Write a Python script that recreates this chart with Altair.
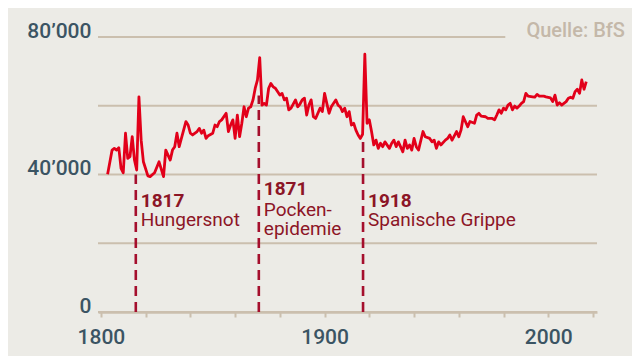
import altair as alt
import pandas as pd

# ---- data ----
years = [1803, 1805, 1806, 1807, 1808, 1809, 1810, 1811, 1812, 1813, 1814, 1815, 1816, 1817, 1818, 1819,
         1821, 1822, 1824, 1826, 1828, 1829, 1831, 1832, 1833, 1834, 1835, 1838, 1839, 1840, 1841, 1843,
         1844, 1845, 1846, 1847, 1848, 1850, 1851, 1852, 1853, 1854, 1856, 1857, 1858, 1859, 1860, 1861,
         1862, 1863, 1864, 1865, 1866, 1867, 1868, 1869, 1870, 1871, 1872, 1873, 1874, 1875, 1876, 1877,
         1878, 1880, 1881, 1882, 1883, 1884, 1885, 1887, 1888, 1889, 1890, 1891, 1892, 1893, 1894, 1895,
         1896, 1898, 1899, 1900, 1901, 1902, 1903, 1905, 1906, 1907, 1908, 1909, 1910, 1911, 1912, 1913,
         1914, 1915, 1916, 1917, 1918, 1919, 1920, 1921, 1922, 1923, 1924, 1925, 1926, 1927, 1929, 1930,
         1931, 1932, 1933, 1935, 1936, 1937, 1938, 1939, 1940, 1941, 1942, 1944, 1945, 1947, 1948, 1949,
         1950, 1951, 1952, 1954, 1955, 1956, 1957, 1959, 1960, 1961, 1962, 1964, 1965, 1967, 1968, 1969,
         1970, 1972, 1973, 1975, 1976, 1977, 1978, 1979, 1980, 1981, 1982, 1983, 1984, 1985, 1986, 1987,
         1988, 1989, 1990, 1991, 1993, 1994, 1995, 1996, 1998, 1999, 2001, 2002, 2003, 2004, 2005, 2006,
         2007, 2008, 2009, 2010, 2011, 2012, 2013, 2014, 2015, 2016, 2017]
deaths = [40100, 47100, 47600, 47100, 47800, 41800, 40500, 52000, 44700, 45200, 51000, 44200, 41300, 62600, 50000, 43700,
          39600, 39400, 40500, 43700, 39400, 47100, 44200, 47100, 48100, 52000, 48100, 55400, 54400, 52000, 51500, 52500,
          53400, 52000, 52900, 50500, 51300, 52000, 54400, 53900, 55400, 55900, 57800, 52500, 54400, 55900, 50500, 57300,
          51000, 54900, 59700, 56800, 59300, 59700, 61700, 65100, 67500, 74000, 60200, 60700, 60200, 65100, 66500, 65500,
          65100, 63100, 63600, 61700, 62200, 58800, 59300, 61700, 59700, 60500, 61700, 62200, 57300, 60200, 61700, 56800,
          56300, 59300, 58300, 63600, 60700, 57800, 59700, 61700, 60200, 59700, 58300, 59300, 56800, 58300, 54400, 54900,
          52900, 51500, 50500, 51700, 75000, 54900, 55900, 52500, 48600, 50000, 47600, 49100, 48100, 49500, 47600, 49100,
          50000, 48100, 49500, 46600, 50000, 47600, 48600, 47100, 50500, 48100, 47100, 52500, 51000, 50500, 49500, 50000,
          47600, 49500, 48600, 50000, 50500, 51500, 50000, 52500, 51000, 52900, 56800, 53900, 55400, 54900, 57300, 57800,
          57000, 56800, 56300, 56300, 55900, 57300, 58800, 57800, 59300, 58800, 60200, 60700, 58800, 59900, 59300, 59900,
          60700, 61200, 63600, 62800, 62600, 62500, 63300, 62800, 62800, 62600, 62300, 61200, 63100, 60200, 60900, 60200,
          60700, 61200, 62200, 62500, 62200, 64100, 64800, 63600, 67500, 64800, 67000]

x_domain = [1798.7, 2021.8]
y_domain = [0, 80000]
x_ticks = [1800, 1820, 1840, 1860, 1880, 1900, 1920, 1940, 1960, 1980, 2000, 2020]
x_tick_labels = {1800: "1800", 1900: "1900", 2000: "2000"}
y_ticks = [0, 20000, 40000, 60000, 80000]
y_tick_labels = {0: "0", 40000: "40’000", 80000: "80’000"}
grid_start = [1798.7, 1798.7, 1798.7, 1798.7, 1798.7]
grid_end = [2021.8, 2021.8, 2021.8, 2021.8, 1980.8]

event_years = ["1817", "1871", "1918"]
event_names = ["Hungersnot", "Pocken-\nepidemie", "Spanische Grippe"]
event_x = [1815.6, 1870.6, 1917.2]
event_top = [40000, 63000, 51200]
event_year_y = [30500, 34000, 30500]
event_name_y = [25000, 27900, 25000]

source_text = "Quelle: BfS"
source_x = [2034.3]
source_y = [80000]

# ---- styling ----
BG = "#ecebe6"
GRID = "#cbbfae"
LINE = "#e2001a"
DASH = "#a50f2d"
ANNOT = "#8c1526"
AXTXT = "#3b5463"
FONT = "Roboto"

xs = alt.Scale(domain=x_domain, nice=False, zero=False)
ys = alt.Scale(domain=y_domain, nice=False)


def label_expr(d):
    parts = []
    for k, v in d.items():
        parts.append(f"datum.value == {k} ? '{v}' : ")
    return "".join(parts) + "''"


x_axis = alt.Axis(values=x_ticks, labelExpr=label_expr(x_tick_labels), grid=False, title=None,
                  domainColor=GRID, domainWidth=2.5, tickColor=GRID, tickWidth=2,
                  tickSize=5, labelPadding=9, labelFontSize=21, labelFontWeight=500, labelColor=AXTXT,
                  labelFont=FONT, labelBaseline="top", labelFlush=False)
y_axis = alt.Axis(values=y_ticks, labelExpr=label_expr(y_tick_labels), grid=False, title=None,
                  domain=False, ticks=False, labelPadding=7, labelFontSize=21, labelFontWeight=500,
                  labelColor=AXTXT, labelFont=FONT, labelBaseline="alphabetic")

series = pd.DataFrame({"year": years, "deaths": deaths})
grid = pd.DataFrame({"x0": grid_start, "x1": grid_end, "y": y_ticks})
events = pd.DataFrame({"x": event_x, "top": event_top, "bottom": [0] * len(event_x),
                       "yl": event_years, "name": event_names,
                       "yy": event_year_y, "ny": event_name_y})
source = pd.DataFrame({"x": source_x, "y": source_y, "t": [source_text]})

grid_layer = alt.Chart(grid).mark_rule(color=GRID, strokeWidth=2).encode(
    x=alt.X("x0:Q", scale=xs, axis=x_axis),
    x2="x1:Q",
    y=alt.Y("y:Q", scale=ys, axis=y_axis),
)

rules = alt.Chart(events).mark_rule(color=DASH, strokeWidth=2.6, strokeDash=[10, 6]).encode(
    x=alt.X("x:Q", scale=xs, axis=x_axis),
    y=alt.Y("bottom:Q", scale=ys, axis=y_axis),
    y2="top:Q",
)

line = alt.Chart(series).mark_line(color=LINE, strokeWidth=2.8, strokeJoin="round").encode(
    x=alt.X("year:Q", scale=xs, axis=x_axis),
    y=alt.Y("deaths:Q", scale=ys, axis=y_axis),
)

year_text = alt.Chart(events).mark_text(align="left", baseline="alphabetic", dx=5, fontSize=19,
                                        fontWeight="bold", color=ANNOT, font=FONT).encode(
    x=alt.X("x:Q", scale=xs, axis=x_axis),
    y=alt.Y("yy:Q", scale=ys, axis=y_axis),
    text="yl:N",
)

name_text = alt.Chart(events).mark_text(align="left", baseline="alphabetic", dx=5, fontSize=19,
                                        color=ANNOT, font=FONT, lineBreak="\n", lineHeight=19).encode(
    x=alt.X("x:Q", scale=xs, axis=x_axis),
    y=alt.Y("ny:Q", scale=ys, axis=y_axis),
    text="name:N",
)

source_layer = alt.Chart(source).mark_text(align="right", baseline="alphabetic", fontSize=20,
                                           fontWeight=500, color="#c4b8a9", font=FONT).encode(
    x=alt.X("x:Q", scale=xs, axis=x_axis),
    y=alt.Y("y:Q", scale=ys, axis=y_axis),
    text="t:N",
)

chart = alt.layer(grid_layer, rules, line, year_text, name_text, source_layer).properties(
    width=499, height=275,
    autosize=alt.AutoSizeParams(type="none"),
    padding={"left": 90, "top": 29, "right": 35, "bottom": 44},
    background=BG,
).configure_view(stroke=None)

chart.save("out.html", embed_options={"renderer": "svg", "actions": False})
